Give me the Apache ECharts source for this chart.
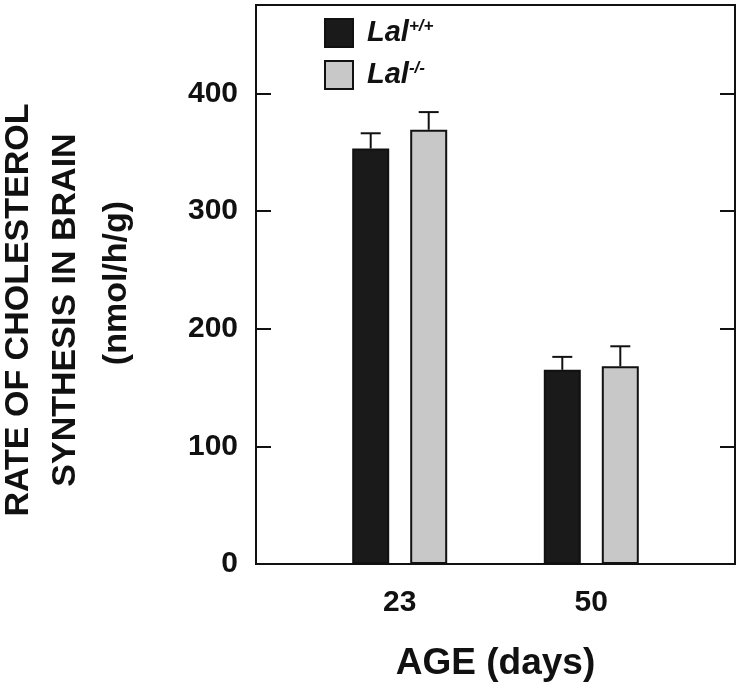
<!DOCTYPE html>
<html>
<head>
<meta charset="utf-8">
<script src="https://cdn.jsdelivr.net/npm/echarts@6/dist/echarts.min.js"></script>
<style>
html,body{margin:0;padding:0;background:#fff;}
#chart{width:744px;height:693px;}
</style>
</head>
<body>
<div id="chart"></div>
<script>
// Categories (empty slots used for spacing along the age axis)
var categories = ['', '23', '', '50', ''];
var seriesNames = ['Lal+/+', 'Lal-/-'];
var wildType = [null, 353, null, 165, null];
var wildTypeErr = [null, 13, null, 11, null];
var knockout = [null, 369, null, 168, null];
var knockoutErr = [null, 15, null, 17, null];
var yTicks = [0, 100, 200, 300, 400];

var FONT = '"Liberation Sans", Arial, sans-serif';
var BAR_W = 37, BAR_GAP = 21;
var OFFSET = (BAR_W + BAR_GAP) / 2;

function errSeries(vals, errs, dir) {
  var data = [];
  for (var i = 0; i < vals.length; i++) {
    if (vals[i] != null) data.push([i, vals[i], vals[i] + errs[i]]);
  }
  return {
    type: 'custom',
    silent: true,
    z: 1,
    data: data,
    encode: { x: 0, y: [1, 2] },
    renderItem: function (params, api) {
      var base = api.coord([api.value(0), api.value(1)]);
      var top = api.coord([api.value(0), api.value(2)]);
      var x = base[0] + dir * OFFSET;
      var st = { stroke: '#111', lineWidth: 2 };
      return {
        type: 'group',
        children: [
          { type: 'line', shape: { x1: x, y1: base[1], x2: x, y2: top[1] }, style: st },
          { type: 'line', shape: { x1: x - 10, y1: top[1], x2: x + 10, y2: top[1] }, style: st }
        ]
      };
    }
  };
}

var chart = echarts.init(document.getElementById('chart'));
var option = {
  animation: false,
  backgroundColor: '#fff',
  grid: { left: 256, right: 9, top: 5, bottom: 129, show: true, borderColor: '#111', borderWidth: 2,
          containLabel: false, outerBoundsMode: 'none' },
  legend: {
    orient: 'vertical',
    left: 319, top: 13,
    icon: 'rect',
    itemWidth: 28, itemHeight: 28, itemGap: 12,
    data: [
      { name: seriesNames[0], itemStyle: { color: '#1a1a1a', borderColor: '#111', borderWidth: 2 } },
      { name: seriesNames[1], itemStyle: { color: '#c8c8c8', borderColor: '#111', borderWidth: 2 } }
    ],
    formatter: function (n) {
      return n === seriesNames[0] ? '{i|Lal}{s|+/+}' : '{i|Lal}{s|-/-}';
    },
    textStyle: {
      padding: [0, 0, 0, 9],
      rich: {
        i: { fontFamily: FONT, fontWeight: 'bold', fontStyle: 'italic', fontSize: 29, color: '#111', lineHeight: 30 },
        s: { fontFamily: FONT, fontWeight: 'bold', fontStyle: 'italic', fontSize: 17, color: '#111', verticalAlign: 'top', lineHeight: 18 }
      }
    }
  },
  xAxis: {
    type: 'category',
    data: categories,
    boundaryGap: true,
    axisLine: { lineStyle: { color: '#111', width: 2 } },
    axisTick: { show: false },
    axisLabel: { fontFamily: FONT, fontWeight: 'bold', fontSize: 30, color: '#111', margin: 24, interval: 0 },
    name: 'AGE (days)',
    nameLocation: 'middle',
    nameGap: 81,
    nameTextStyle: { fontFamily: FONT, fontWeight: 'bold', fontSize: 37, color: '#111' },
    splitLine: { show: false }
  },
  yAxis: [
    {
      type: 'value', min: 0, max: 475, interval: 100,
      axisLine: { show: true, lineStyle: { color: '#111', width: 2 } },
      axisTick: { show: true, inside: true, length: 15, lineStyle: { color: '#111', width: 2 } },
      axisLabel: {
        fontFamily: FONT, fontWeight: 'bold', fontSize: 30, color: '#111', margin: 18,
        formatter: function (v) { return yTicks.indexOf(v) >= 0 ? String(v) : ''; }
      },
      splitLine: { show: false }
    },
    {
      type: 'value', min: 0, max: 475, interval: 100, position: 'right',
      axisLine: { show: true, lineStyle: { color: '#111', width: 2 } },
      axisTick: { show: true, inside: true, length: 15, lineStyle: { color: '#111', width: 2 } },
      axisLabel: { show: false },
      splitLine: { show: false }
    }
  ],
  graphic: [
    { type: 'text', x: 19, y: 310, rotation: Math.PI / 2,
      style: { text: 'RATE OF CHOLESTEROL', fontFamily: FONT, fontWeight: 'bold', fontSize: 34, fill: '#111', align: 'center', verticalAlign: 'middle' } },
    { type: 'text', x: 66, y: 310, rotation: Math.PI / 2,
      style: { text: 'SYNTHESIS IN BRAIN', fontFamily: FONT, fontWeight: 'bold', fontSize: 34, fill: '#111', align: 'center', verticalAlign: 'middle' } },
    { type: 'text', x: 117, y: 283, rotation: Math.PI / 2,
      style: { text: '(nmol/h/g)', fontFamily: FONT, fontWeight: 'bold', fontSize: 34, fill: '#111', align: 'center', verticalAlign: 'middle' } }
  ],
  series: [
    {
      name: seriesNames[0], type: 'bar', data: wildType, barWidth: BAR_W, barGap: (BAR_GAP / BAR_W * 100) + '%',
      itemStyle: { color: '#1a1a1a', borderColor: '#111', borderWidth: 2 }, z: 2
    },
    {
      name: seriesNames[1], type: 'bar', data: knockout, barWidth: BAR_W,
      itemStyle: { color: '#c8c8c8', borderColor: '#111', borderWidth: 2 }, z: 2
    },
    errSeries(wildType, wildTypeErr, -1),
    errSeries(knockout, knockoutErr, 1)
  ]
};
chart.setOption(option);
</script>
</body>
</html>
